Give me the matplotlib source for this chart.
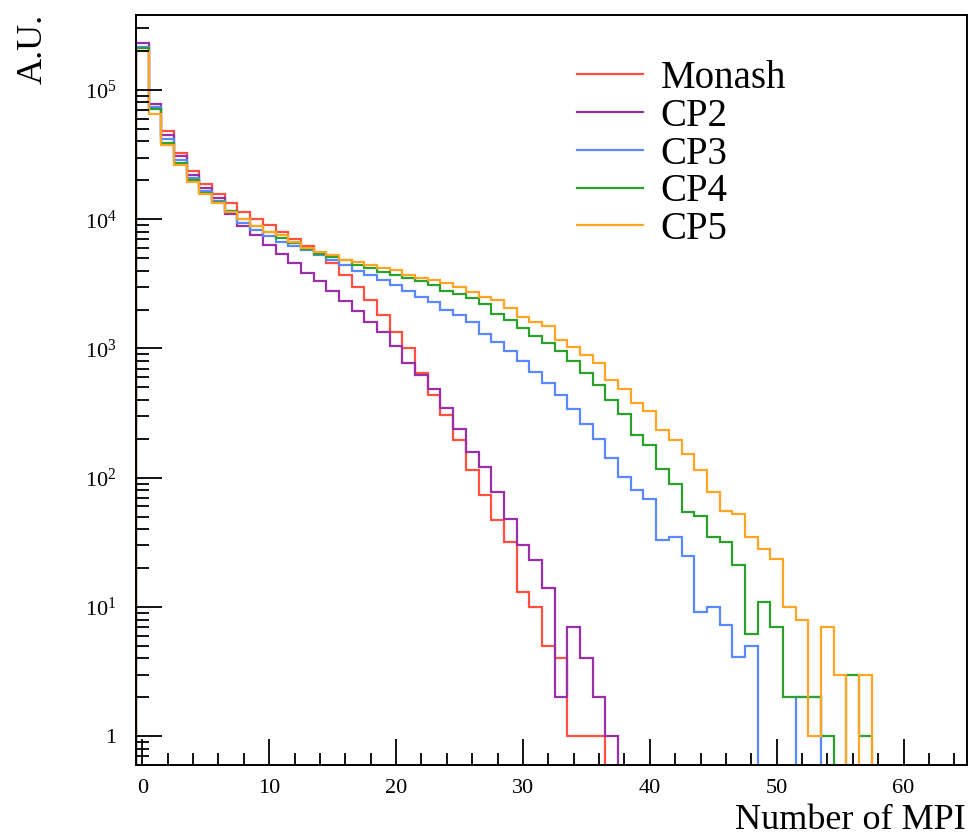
import numpy as np
import matplotlib
matplotlib.use("Agg")
import matplotlib.pyplot as plt
from matplotlib.ticker import MultipleLocator, FixedLocator, FuncFormatter, LogLocator, NullFormatter

plt.rcParams["font.family"] = ["Liberation Serif", "DejaVu Serif"]
plt.rcParams["mathtext.fontset"] = "custom"
plt.rcParams["mathtext.rm"] = "Liberation Serif"

# number of MPI per event, bins centred on integers starting at 0
monash = [2.1e5, 7.2e4, 4.8e4, 3.25e4, 2.35e4, 1.87e4, 1.58e4, 1.33e4, 1.14e4, 1.0e4,
          9.0e3, 7.9e3, 7.0e3, 6.2e3, 5.4e3, 4.6e3, 3.7e3, 3.0e3, 2.37e3, 1.82e3,
          1.35e3, 1.0e3, 650, 440, 305, 196, 115, 73, 47, 32,
          13, 10, 5, 4, 1, 1, 1]
cp2 = [2.3e5, 7.8e4, 4.5e4, 3.1e4, 2.2e4, 1.75e4, 1.45e4, 1.1e4, 8.9e3, 7.6e3,
       6.3e3, 5.4e3, 4.6e3, 3.85e3, 3.3e3, 2.8e3, 2.35e3, 1.95e3, 1.6e3, 1.35e3,
       1.05e3, 770, 620, 490, 344, 240, 158, 121, 78, 48,
       30, 23, 14, 2, 7, 4, 2, 1]
cp3 = [2.15e5, 7.4e4, 4.2e4, 2.85e4, 2.1e4, 1.65e4, 1.38e4, 1.15e4, 9.4e3, 8.3e3,
       7.4e3, 6.7e3, 6.2e3, 5.76e3, 5.3e3, 4.8e3, 4.4e3, 3.95e3, 3.7e3, 3.4e3,
       3.1e3, 2.8e3, 2.5e3, 2.3e3, 2.0e3, 1.8e3, 1.6e3, 1.3e3, 1.12e3, 960,
       800, 660, 540, 440, 340, 260, 200, 141, 102, 80,
       69, 33, 35, 25, 9.2, 10, 7.2, 4.1, 5, 0,
       0, 0, 2, 2]
cp4 = [2.1e5, 7.1e4, 3.9e4, 2.7e4, 2.0e4, 1.6e4, 1.35e4, 1.15e4, 1.0e4, 8.8e3,
       7.9e3, 7.2e3, 6.6e3, 5.9e3, 5.4e3, 5.1e3, 4.8e3, 4.4e3, 4.2e3, 3.9e3,
       3.7e3, 3.5e3, 3.3e3, 3.1e3, 2.8e3, 2.65e3, 2.44e3, 2.2e3, 1.85e3, 1.65e3,
       1.43e3, 1.26e3, 1.1e3, 950, 800, 650, 520, 400, 310, 215,
       178, 117, 90, 54, 51, 35, 32, 21, 6.2, 11,
       7, 2, 2, 2, 1, 0, 3, 1]
cp5 = [2.0e5, 6.5e4, 3.76e4, 2.63e4, 1.95e4, 1.58e4, 1.33e4, 1.14e4, 1.0e4, 8.8e3,
       8.0e3, 7.5e3, 6.7e3, 6.0e3, 5.6e3, 5.3e3, 4.8e3, 4.7e3, 4.4e3, 4.2e3,
       4.06e3, 3.7e3, 3.5e3, 3.4e3, 3.2e3, 3.0e3, 2.75e3, 2.5e3, 2.37e3, 2.04e3,
       1.76e3, 1.61e3, 1.48e3, 1.16e3, 1.03e3, 890, 767, 569, 490, 376,
       328, 233, 196, 153, 115, 77, 55, 52, 35, 28,
       23.6, 10, 8, 1, 7, 3, 0, 3]

labels = ["Monash", "CP2", "CP3", "CP4", "CP5"]
colors = ["#ff5040", "#9a30a8", "#5a88ff", "#2ca02c", "#ffa526"]

fig = plt.figure(figsize=(9.69, 8.38), dpi=100)
ax = fig.add_axes([136 / 969, 1 - 765 / 838, 831 / 969, 750 / 838])

for vals, lab, col in zip([monash, cp2, cp3, cp4, cp5], labels, colors):
    vals = np.array(vals, dtype=float)
    edges = np.arange(len(vals) + 1) - 0.5
    ax.stairs(vals, edges, color=col, lw=1.6, label=lab, baseline=1e-3)

ax.set_yscale("log", nonpositive="clip")
ax.set_xlim(-0.5, 65)
ax.set_ylim(0.6, 3.8e5)

ax.xaxis.set_major_locator(MultipleLocator(10))
ax.xaxis.set_minor_locator(MultipleLocator(2))
ax.yaxis.set_major_locator(FixedLocator([1, 10, 100, 1e3, 1e4, 1e5]))
ax.yaxis.set_minor_locator(LogLocator(base=10, subs=np.arange(2, 10)))
ax.yaxis.set_minor_formatter(NullFormatter())


def ylab(v, pos):
    e = int(round(np.log10(v)))
    if e == 0:
        return "1"
    return r"$\mathregular{10^{%d}}$" % e


ax.yaxis.set_major_formatter(FuncFormatter(ylab))

ax.tick_params(which="major", direction="in", length=19, width=1.3, labelsize=16, pad=14)
ax.tick_params(which="minor", direction="in", length=9, width=1.3)
ax.tick_params(axis="x", which="major", pad=10)
for s in ax.spines.values():
    s.set_linewidth(1.4)

fig.text(33 / 969, 1 - 14 / 838, "A.U.", rotation=90, ha="center", va="top", fontsize=26)
fig.text(966 / 969, 1 - 820 / 838, "Number of MPI", ha="right", va="center", fontsize=26)

ax.legend(loc="upper left", bbox_to_anchor=(577 / 969, 1 - 60 / 838),
          bbox_transform=fig.transFigure, frameon=False, fontsize=28,
          handlelength=1.7, handletextpad=0.45, labelspacing=0.02,
          borderpad=0, borderaxespad=0)

fig.savefig("out.png", dpi=100)
